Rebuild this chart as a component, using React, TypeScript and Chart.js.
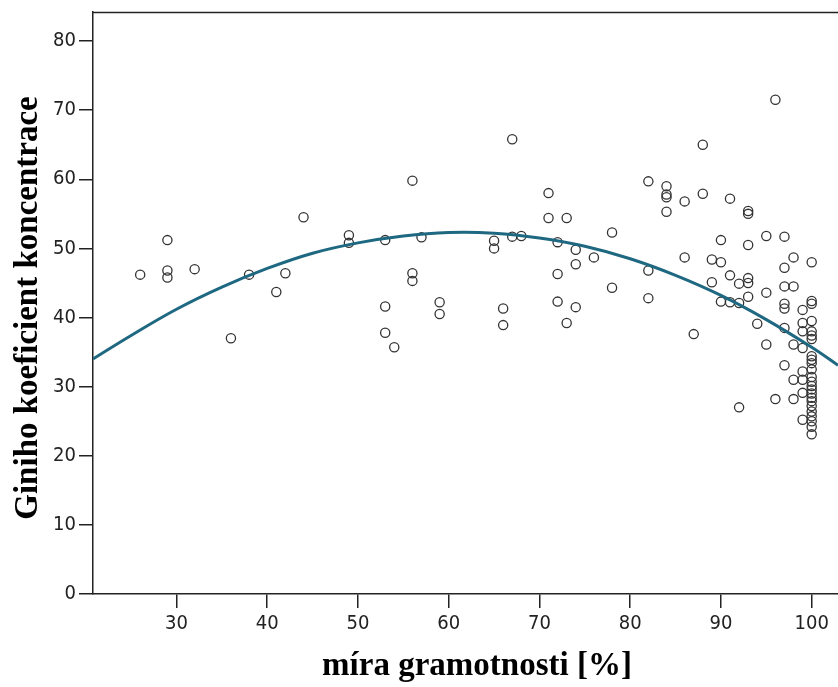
import { useEffect, useRef } from "react";
import { Chart, registerables } from "chart.js";

Chart.register(...registerables);

const xTickValues = [30, 40, 50, 60, 70, 80, 90, 100];
const yTickValues = [0, 10, 20, 30, 40, 50, 60, 70, 80];

const literacyX = [
  26, 29, 29, 29, 32, 36, 38, 41, 42, 44,
  49, 49, 53, 53, 53, 54, 56, 56, 56, 57,
  59, 59, 65, 65, 66, 66, 67, 67, 68, 71,
  71, 72, 72, 72, 73, 73, 74, 74, 74, 76,
  78, 78, 82, 82, 82, 84, 84, 84, 84, 86,
  86, 87, 88, 88, 89, 89, 90, 90, 90, 91,
  91, 91, 92, 92, 92, 93, 93, 93, 93, 93,
  93, 94, 95, 95, 95, 96, 96, 97, 97, 97,
  97, 97, 97, 97, 98, 98, 98, 98, 98, 99,
  99, 99, 99, 99, 99, 99, 99,
  100, 100, 100, 100, 100, 100, 100, 100, 100, 100, 100, 100,
  100, 100, 100, 100, 100, 100, 100, 100, 100, 100, 100, 100,
];

const giniY = [
  46.2, 51.2, 46.8, 45.8, 47.0, 37.0, 46.2, 43.7, 46.4, 54.5,
  51.9, 50.8, 51.2, 41.6, 37.8, 35.7, 59.8, 46.4, 45.3, 51.6,
  42.2, 40.5, 51.1, 50.0, 41.3, 38.9, 65.8, 51.7, 51.8, 58.0,
  54.4, 50.9, 46.3, 42.3, 54.4, 39.2, 49.8, 47.7, 41.5, 48.7,
  52.3, 44.3, 59.7, 46.8, 42.8, 59.0, 57.8, 57.4, 55.3, 56.8,
  48.7, 37.6, 65.0, 57.9, 48.4, 45.1, 51.2, 48.0, 42.3, 57.2,
  46.1, 42.2, 44.9, 42.1, 27.0, 55.4, 55.0, 50.5, 45.7, 45.0,
  43.0, 39.1, 51.8, 43.6, 36.1, 71.5, 28.2, 51.7, 47.2, 44.5,
  42.0, 41.3, 38.5, 33.1, 48.7, 44.5, 36.1, 31.0, 28.2, 41.1,
  39.2, 38.0, 35.6, 32.2, 31.0, 29.1, 25.2,
  48.0, 42.4, 42.0, 39.5, 38.0, 37.4, 36.9, 34.4, 33.9, 33.4, 32.5, 31.4,
  30.7, 30.1, 29.6, 29.0, 28.4, 27.9, 27.2, 26.4, 25.7, 25.0, 24.2, 23.1,
];

const fitX = [20.8, 25, 30, 35, 40, 45, 50, 55, 60, 65, 70, 75, 80, 85, 90, 95, 100, 102.9];
const fitY = [34.0, 37.4, 41.2, 44.4, 47.1, 49.3, 50.8, 51.8, 52.3, 52.2, 51.5, 50.3, 48.5, 46.1, 43.2, 39.7, 35.7, 33.1];

const xTitle = "míra gramotnosti [%]";
const yTitle = "Giniho koeficient koncentrace";

const tickFont = {
  family: "'Liberation Sans Narrow', 'DejaVu Sans Condensed', 'Liberation Sans', sans-serif",
  size: 20,
  lineHeight: 1.2,
};
const titleFontCss = "bold 33px 'Liberation Serif', 'Times New Roman', serif";

const frameColor = "#222222";

const frameAndTitles = {
  id: "frameAndTitles",
  afterDraw(chart: any) {
    const { ctx, chartArea } = chart;
    ctx.save();
    ctx.strokeStyle = frameColor;
    ctx.lineWidth = 1.5;
    ctx.beginPath();
    ctx.moveTo(chartArea.left, chartArea.top + 0.5);
    ctx.lineTo(chartArea.right, chartArea.top + 0.5);
    ctx.stroke();

    ctx.fillStyle = "#000";
    ctx.font = titleFontCss;
    ctx.textAlign = "center";
    ctx.textBaseline = "middle";
    ctx.fillText(xTitle, 477, 666);

    ctx.translate(28, 308);
    ctx.rotate(-Math.PI / 2);
    ctx.fillText(yTitle, 0, 0);
    ctx.restore();
  },
};

const zeroPadding = (s: any) => {
  s.paddingTop = 0;
  s.paddingBottom = 0;
  s.paddingLeft = 0;
  s.paddingRight = 0;
};

export default function App() {
  const ref = useRef<HTMLCanvasElement>(null);

  useEffect(() => {
    document.body.style.margin = "0";
    const chart = new Chart(ref.current as HTMLCanvasElement, {
      type: "scatter",
      data: {
        datasets: [
          {
            type: "line",
            data: fitX.map((x, i) => ({ x, y: fitY[i] })),
            borderColor: "#1e6882",
            borderWidth: 3,
            pointRadius: 0,
            tension: 0.4,
            fill: false,
            order: 1,
          } as any,
          {
            type: "scatter",
            data: literacyX.map((x, i) => ({ x, y: giniY[i] })),
            pointRadius: 4.6,
            pointBorderWidth: 1.3,
            pointBorderColor: "#333333",
            pointBackgroundColor: "rgba(0,0,0,0)",
            order: 2,
          },
        ],
      },
      options: {
        responsive: false,
        animation: false,
        layout: { autoPadding: false, padding: { top: 12, right: 0, left: 0, bottom: 0 } },
        plugins: {
          legend: { display: false },
          tooltip: { enabled: false },
        },
        scales: {
          x: {
            type: "linear",
            min: 20.8,
            max: 102.9,
            afterBuildTicks: (s: any) => {
              s.ticks = xTickValues.map((v) => ({ value: v }));
            },
            afterFit: (s: any) => {
              s.height = 93;
              zeroPadding(s);
            },
            grid: {
              drawOnChartArea: false,
              drawTicks: true,
              tickLength: 14,
              color: frameColor,
              lineWidth: 1.5,
            },
            border: { color: frameColor, width: 1.5 },
            ticks: { font: tickFont, color: "#222", padding: 4, maxRotation: 0 },
            title: { display: false },
          },
          y: {
            type: "linear",
            min: 0,
            max: 84.2,
            afterBuildTicks: (s: any) => {
              s.ticks = yTickValues.map((v) => ({ value: v }));
            },
            afterFit: (s: any) => {
              s.width = 93;
              zeroPadding(s);
            },
            grid: {
              drawOnChartArea: false,
              drawTicks: true,
              tickLength: 14,
              color: frameColor,
              lineWidth: 1.5,
            },
            border: { color: frameColor, width: 1.5 },
            ticks: { font: tickFont, color: "#222", padding: 3 },
            title: { display: false },
          },
        },
      },
      plugins: [frameAndTitles],
    });
    return () => chart.destroy();
  }, []);

  return <canvas ref={ref} width={838} height={687} style={{ display: "block" }} />;
}
